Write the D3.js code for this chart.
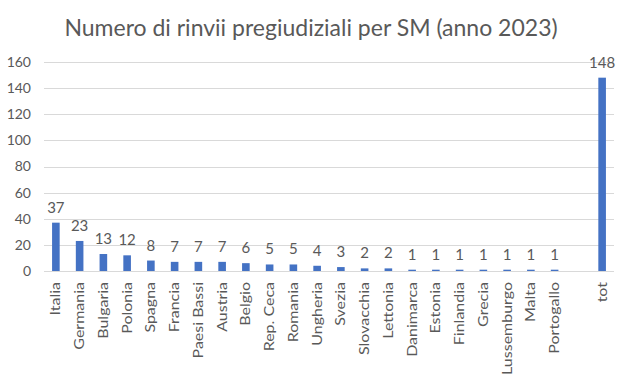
<!DOCTYPE html>
<html>
<head>
<meta charset="utf-8">
<script src="https://cdn.jsdelivr.net/npm/d3@7"></script>
<style>
  body { margin: 0; background: #fff; }
  #chart-container { width: 626px; height: 378px; }
  text { font-family: Lato, "Open Sans", sans-serif; fill: #595959; }
</style>
</head>
<body>
<div id="chart-container"></div>
<script>
// Numero di rinvii pregiudiziali per SM (anno 2023)
const categories = ["Italia", "Germania", "Bulgaria", "Polonia", "Spagna", "Francia", "Paesi Bassi",
  "Austria", "Belgio", "Rep. Ceca", "Romania", "Ungheria", "Svezia", "Slovacchia", "Lettonia",
  "Danimarca", "Estonia", "Finlandia", "Grecia", "Lussemburgo", "Malta", "Portogallo", "", "tot"];
const values = [37, 23, 13, 12, 8, 7, 7, 7, 6, 5, 5, 4, 3, 2, 2, 1, 1, 1, 1, 1, 1, 1, null, 148];
const yTicks = [0, 20, 40, 60, 80, 100, 120, 140, 160];

(function() {
  const width = 626, height = 378;
  const margin = { top: 62, right: 12, bottom: 107, left: 44 };
  const innerWidth = width - margin.left - margin.right;
  const innerHeight = height - margin.top - margin.bottom;
  const font = "Lato, 'Open Sans', sans-serif";

  const svg = d3.select('#chart-container')
    .append("svg")
    .attr("width", width)
    .attr("height", height);

  svg.append("text")
    .attr("x", 311)
    .attr("y", 36)
    .attr("text-anchor", "middle")
    .style("font-size", "23px")
    .text("Numero di rinvii pregiudiziali per SM (anno 2023)");

  const g = svg.append("g")
    .attr("transform", `translate(${margin.left},${margin.top})`);

  const data = categories.map((c, i) => ({ key: i, name: c, value: values[i] }));

  const x = d3.scaleBand()
    .domain(data.map(d => d.key))
    .range([0, innerWidth])
    .paddingInner(0.68)
    .paddingOuter(0.34);

  const y = d3.scaleLinear()
    .domain([0, 160])
    .range([innerHeight, 0]);

  // gridlines
  g.selectAll(".grid")
    .data(yTicks)
    .enter()
    .append("line")
    .attr("x1", 0)
    .attr("x2", innerWidth)
    .attr("y1", d => Math.round(y(d)) + 0.5)
    .attr("y2", d => Math.round(y(d)) + 0.5)
    .style("stroke", "#d9d9d9")
    .style("stroke-width", 1);

  // y axis labels
  const yAxis = g.append("g")
    .call(d3.axisLeft(y).tickValues(yTicks).tickSize(0).tickPadding(13));
  yAxis.select(".domain").remove();
  yAxis.selectAll("text")
    .style("font-size", "14px")
    .style("fill", "#595959")
    .style("font-family", font);

  const bars = data.filter(d => d.value != null);

  g.selectAll(".bar")
    .data(bars)
    .enter()
    .append("rect")
    .attr("x", d => x(d.key))
    .attr("y", d => y(d.value))
    .attr("width", x.bandwidth())
    .attr("height", d => innerHeight - y(d.value))
    .style("fill", "#4472c4");

  g.selectAll(".val")
    .data(bars)
    .enter()
    .append("text")
    .attr("x", d => x(d.key) + x.bandwidth() / 2)
    .attr("y", d => y(d.value) - 10)
    .attr("text-anchor", "middle")
    .style("font-size", "15px")
    .text(d => d.value);

  // category labels (rotated, a bit condensed across the line like the original)
  const xAxis = g.append("g")
    .attr("transform", `translate(0,${innerHeight})`)
    .call(d3.axisBottom(x).tickSize(0).tickFormat(i => categories[i]));
  xAxis.select(".domain").remove();
  xAxis.selectAll("text")
    .attr("transform", "rotate(-90) scale(1, 0.82)")
    .attr("x", -11)
    .attr("y", 0)
    .attr("dy", "0.35em")
    .attr("text-anchor", "end")
    .style("font-size", "16px")
    .style("fill", "#595959")
    .style("font-family", font);
})();
</script>
</body>
</html>
